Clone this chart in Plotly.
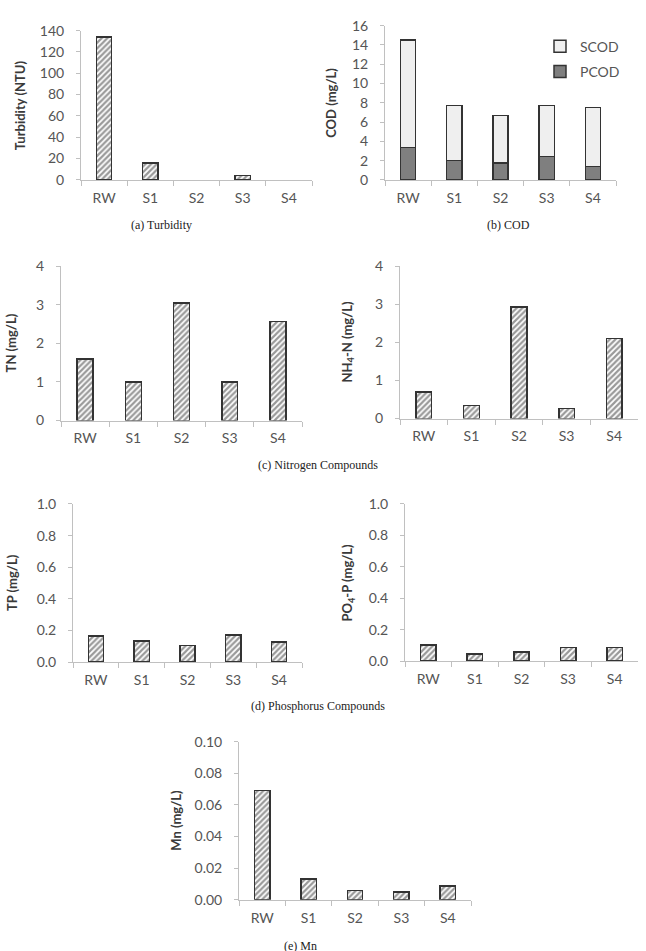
import plotly.graph_objects as go

W, H = 646, 951

categories = ["RW", "S1", "S2", "S3", "S4"]
turbidity = [134, 16, 0, 4, 0]
pcod = [3.35, 2.0, 1.75, 2.45, 1.4]
scod = [11.15, 5.7, 4.95, 5.25, 6.1]
tn = [1.6, 1.0, 3.05, 1.0, 2.57]
nh4n = [0.70, 0.34, 2.93, 0.27, 2.1]
tp = [0.165, 0.135, 0.105, 0.17, 0.128]
po4p = [0.104, 0.046, 0.058, 0.086, 0.086]
mn = [0.069, 0.013, 0.0058, 0.005, 0.0087]

# panel geometry in pixels: x0, x1, ytop, ybottom
panels = [
    dict(key="a", x=(81, 312), y=(22, 174), rng=[0, 140], dtick=20, fmt="d",
         title="Turbidity (NTU)", tx=20),
    dict(key="b", x=(385, 616), y=(17, 174), rng=[0, 16], dtick=2, fmt="d",
         title="COD (mg/L)", tx=331),
    dict(key="c", x=(61, 302), y=(262, 419), rng=[0, 4], dtick=1, fmt="d",
         title="TN (mg/L)", tx=11),
    dict(key="d", x=(400, 638), y=(262, 417), rng=[0, 4], dtick=1, fmt="d",
         title="NH<sub>4</sub>-N (mg/L)", tx=348),
    dict(key="e", x=(73, 302), y=(504, 665), rng=[0, 1.0], dtick=0.2, fmt=".1f",
         title="TP (mg/L)", tx=12),
    dict(key="f", x=(405, 638), y=(504, 664), rng=[0, 1.0], dtick=0.2, fmt=".1f",
         title="PO<sub>4</sub>-P (mg/L)", tx=348),
    dict(key="g", x=(239, 471), y=(746, 907), rng=[0, 0.1], dtick=0.02, fmt=".2f",
         title="Mn (mg/L)", tx=176),
]

captions = [
    ("(a) Turbidity", 161, 220),
    ("(b) COD", 508, 220),
    ("(c) Nitrogen Compounds", 318, 464),
    ("(d) Phosphorus Compounds", 318, 710),
]

TICK_FONT = dict(family="Lato, 'Open Sans', sans-serif", size=14, color="#555555")
TITLE_FONT = dict(family="Lato, 'Open Sans', sans-serif", size=13, color="#3a3a3a")
AXIS_COLOR = "#c0c0c0"
EDGE = "#333333"

hatch = dict(shape="/", fgcolor="#333333", bgcolor="white", size=4, solidity=0.55)

fig = go.Figure()

single = {"a": turbidity, "c": tn, "d": nh4n, "e": tp, "f": po4p, "g": mn}

for i, p in enumerate(panels):
    n = "" if i == 0 else str(i + 1)
    xa, ya = "x" + n, "y" + n
    if p["key"] == "b":
        fig.add_trace(go.Bar(x=categories, y=pcod, name="PCOD", xaxis=xa, yaxis=ya,
                             legendrank=2, legendgroup="p",
                             marker=dict(color="#7f7f7f", line=dict(color=EDGE, width=1.5)),
                             showlegend=True))
        fig.add_trace(go.Bar(x=categories, y=scod, name="SCOD", xaxis=xa, yaxis=ya,
                             legendrank=1, legendgroup="s",
                             marker=dict(color="#efefef", line=dict(color=EDGE, width=1.5)),
                             showlegend=True))
    else:
        vals = single[p["key"]]
        fig.add_trace(go.Bar(x=categories, y=vals, xaxis=xa, yaxis=ya,
                             marker=dict(color="white", pattern=hatch,
                                         line=dict(color=EDGE,
                                                   width=[1.5 if v > 0 else 0 for v in vals])),
                             showlegend=False))
    x0, x1 = p["x"]
    yt, yb = p["y"]
    fig.layout["xaxis" + n] = dict(
        domain=[x0 / W, x1 / W], anchor=ya, type="category",
        showline=True, linecolor=AXIS_COLOR, linewidth=1,
        ticks="outside", tickson="boundaries", ticklen=5, tickcolor=AXIS_COLOR,
        tickfont=TICK_FONT, showgrid=False, zeroline=False, fixedrange=True,
        ticklabelstandoff=5,
    )
    fig.layout["yaxis" + n] = dict(
        domain=[1 - yb / H, 1 - yt / H], anchor=xa, range=p["rng"], dtick=p["dtick"],
        tick0=0, tickformat=p["fmt"],
        showline=True, linecolor=AXIS_COLOR, linewidth=1,
        ticks="outside", ticklen=4, tickcolor=AXIS_COLOR,
        tickfont=TICK_FONT, showgrid=False, zeroline=False, fixedrange=True,
        ticklabelstandoff=9,
    )
    fig.add_annotation(text="<b>" + p["title"] + "</b>", textangle=-90,
                       xref="paper", yref="paper", x=p["tx"] / W,
                       y=1 - (yt + yb) / 2 / H, showarrow=False,
                       xanchor="center", yanchor="middle", font=TITLE_FONT)

for txt, cx, cy in captions:
    fig.add_annotation(text=txt, xref="paper", yref="paper", x=cx / W, y=1 - cy / H,
                       showarrow=False, xanchor="center", yanchor="middle",
                       font=dict(family="'Liberation Serif', 'Times New Roman', serif",
                                 size=12, color="#222222"))
fig.add_annotation(text="(e) Mn", xref="paper", yref="paper", x=300 / W, y=1 - 945 / H,
                   showarrow=False, xanchor="center", yanchor="top",
                   font=dict(family="'Liberation Serif', 'Times New Roman', serif",
                             size=12, color="#222222"))

fig.update_layout(
    width=W, height=H, margin=dict(l=0, r=0, t=0, b=0),
    paper_bgcolor="white", plot_bgcolor="white",
    barmode="stack", bargap=0.67,
    legend=dict(x=540 / W, y=1 - 22 / H, xanchor="left", yanchor="top",
                traceorder="grouped", font=TICK_FONT,
                bgcolor="rgba(0,0,0,0)", itemwidth=30, tracegroupgap=4),
)

fig.write_html("out.html")
